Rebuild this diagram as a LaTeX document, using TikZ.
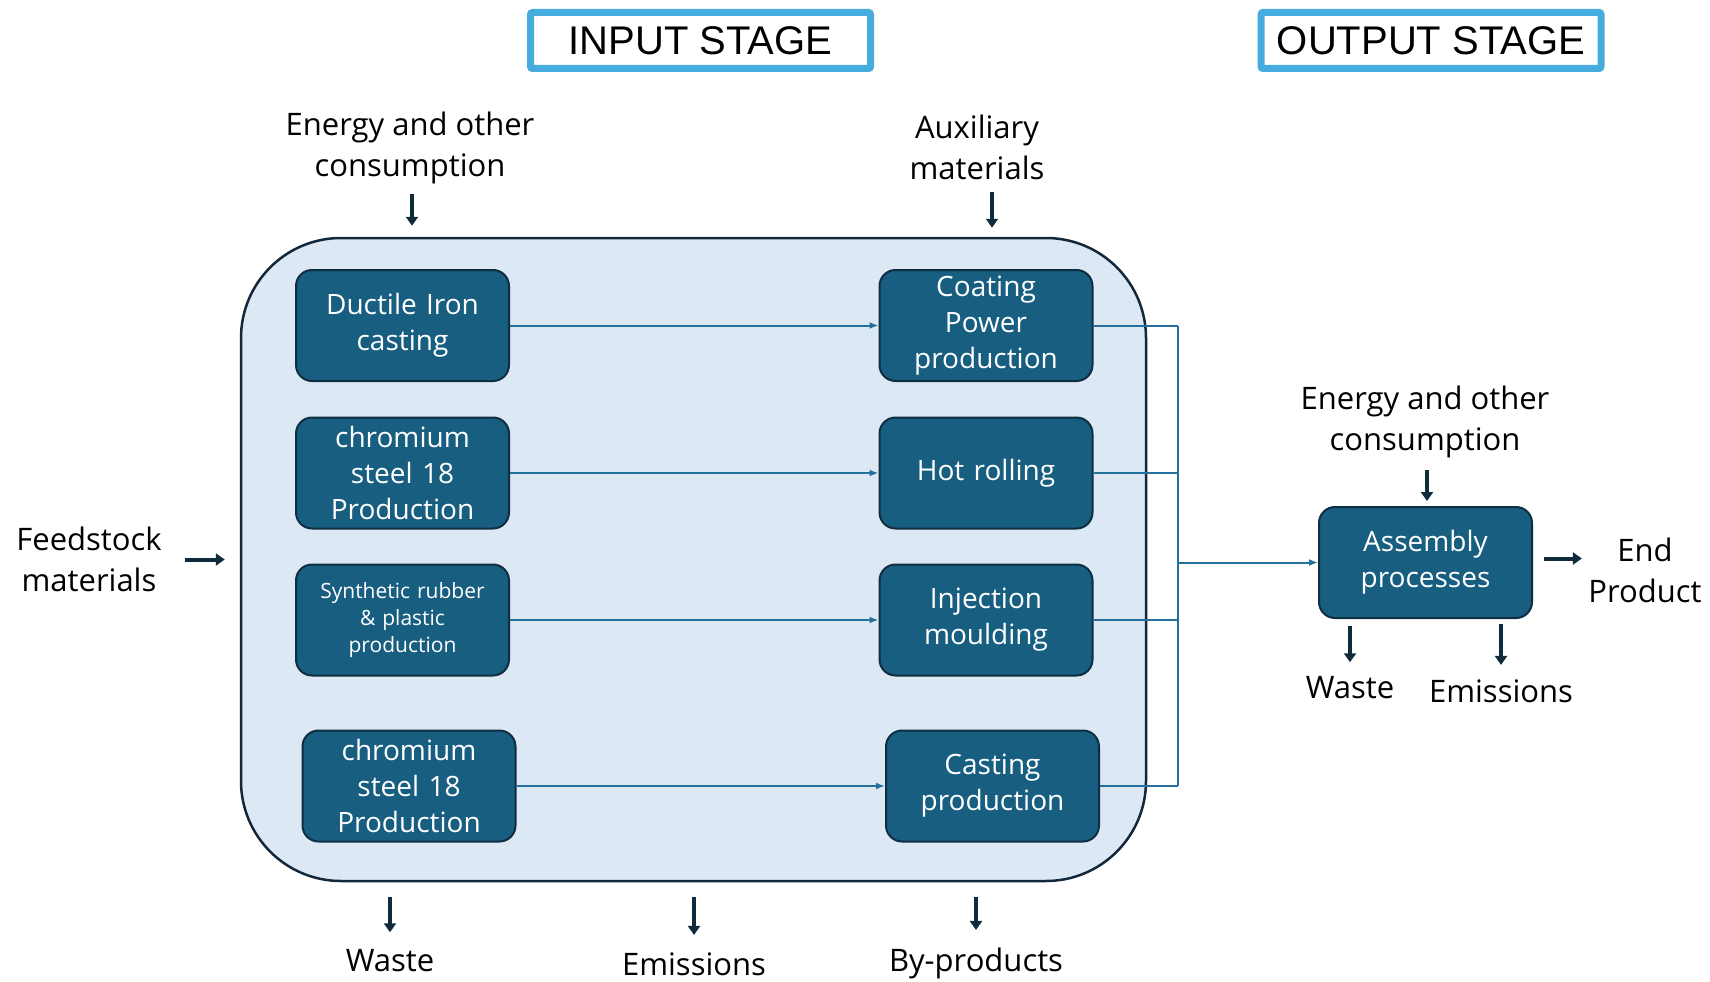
\documentclass[tikz,border=0pt]{standalone}
\usepackage{fontspec}
\setmainfont{Open Sans}
\setsansfont{Liberation Sans}
\usepackage{tikz}
\usetikzlibrary{arrows.meta, positioning, calc}
\definecolor{boxblue}{HTML}{175E80}
\definecolor{boxedge}{HTML}{0F2E42}
\definecolor{panelfill}{HTML}{DDE8F5}
\definecolor{paneledge}{HTML}{12283A}
\definecolor{wire}{HTML}{24709A}
\definecolor{navy}{HTML}{0F2B3C}
\definecolor{stageblue}{HTML}{46ACDD}
\tikzstyle{process} = [rectangle, rounded corners=16pt, minimum width=213pt, minimum height=111pt, text width=205pt, align=center, draw=boxedge, line width=2pt, fill=boxblue, text=white, font=\fontsize{28}{36}\selectfont]
\tikzstyle{stage} = [rectangle, rounded corners=2pt, draw=stageblue, line width=7pt, minimum width=340pt, minimum height=56pt, font=\sffamily\fontsize{40}{44}\selectfont]
\tikzstyle{flowtext} = [align=center, text=black, font=\fontsize{31}{41}\selectfont]
\tikzstyle{arrow} = [line width=4pt, draw=navy, -{Triangle[length=9pt,width=12pt]}]
\tikzstyle{line} = [line width=2pt, draw=wire, -{Latex[length=9pt,width=7pt]}]
\begin{document}
\begin{tikzpicture}[x=1pt,y=-1pt]
            \useasboundingbox (0,0) rectangle (1710,982);

            \node[stage] (stage-in) at (700.5,40.5) {INPUT STAGE};
            \node[stage] (stage-out) at (1431,40.5) {OUTPUT STAGE};

            \node[rectangle, rounded corners=100pt, minimum width=905pt, minimum height=643pt, draw=paneledge, line width=2.5pt, fill=panelfill] (panel) at (693.5,559.5) {};

            \node[process] (in-1) at (402.5,325.5) {Ductile Iron\\casting};
            \node[process] (in-2) at (402.5,473) {chromium\\steel 18\\Production};
            \node[process, font=\fontsize{21}{27}\selectfont] (in-3) at (402.5,620) {Synthetic rubber\\\& plastic\\production};
            \node[process] (in-4) at (409,786) {chromium\\steel 18\\Production};

            \node[process] (out-1) at (986,325.5) {Coating\\Power\\production};
            \node[process] (out-2) at (986,473) {Hot rolling};
            \node[process] (out-3) at (986,620) {Injection\\moulding};
            \node[process] (out-4) at (992.5,786) {Casting\\production};

            \node[process] (asm) at (1425.5,562.5) {Assembly\\processes};

            \node[flowtext] (energy-in) at (410,147.5) {Energy and other\\consumption};
            \node[flowtext] (aux) at (977,147.5) {Auxiliary\\materials};
            \node[flowtext] (feed) at (89,559.5) {Feedstock\\materials};
            \node[flowtext] (waste-in) at (390,961) {Waste};
            \node[flowtext] (emis-in) at (694,964) {Emissions};
            \node[flowtext] (byprod) at (976,963) {By-products};
            \node[flowtext] (energy-out) at (1425,422) {Energy and other\\consumption};
            \node[flowtext] (end) at (1645,570.5) {End\\Product};
            \node[flowtext] (waste-out) at (1350,688) {Waste};
            \node[flowtext] (emis-out) at (1501,691) {Emissions};

            % flows inside the input stage
            \foreach \i in {1,...,4}
                \draw[line] (in-\i.east) -- (out-\i.west);

            \coordinate (bus) at (1178,562.5);
            \foreach \i in {1,...,4}
                \draw[wire, line width=2pt] (out-\i.east) -- (out-\i.east -| bus);
            \draw[wire, line width=2pt] (out-1.east -| bus) -- (out-4.east -| bus);
            \draw[line] (bus) -- (asm.west);

            % inputs and outputs
            \draw[arrow, shorten <=7pt, shorten >=11pt] ([xshift=2pt]energy-in.south) -- ([xshift=2pt]energy-in.south |- panel.north);
            \draw[arrow, shorten <=9pt, shorten >=9pt] ([xshift=15pt]aux.south) -- ([xshift=15pt]aux.south |- panel.north);
            \draw[arrow, shorten <=20pt, shorten >=15pt] (feed.east |- panel.west) -- (panel.west);
            \draw[arrow, shorten <=15pt, shorten >=14pt] (waste-in.north |- panel.south) -- (waste-in.north);
            \draw[arrow, shorten <=15pt, shorten >=14pt] (emis-in.north |- panel.south) -- (emis-in.north);
            \draw[arrow, shorten <=15pt, shorten >=14pt] (byprod.north |- panel.south) -- (byprod.north);

            \draw[arrow, shorten <=8pt, shorten >=5pt] ([xshift=2pt]energy-out.south) -- ([xshift=2pt]energy-out.south |- asm.north);
            \draw[arrow, shorten <=11pt, shorten >=3pt] ([yshift=4pt]asm.east) -- ([yshift=4pt]asm.east -| end.west);
            \draw[arrow, shorten <=7pt, shorten >=11pt] (waste-out.north |- asm.south) -- (waste-out.north);
            \draw[arrow, shorten <=5pt, shorten >=11pt] (emis-out.north |- asm.south) -- (emis-out.north);

        \end{tikzpicture}
\end{document}
